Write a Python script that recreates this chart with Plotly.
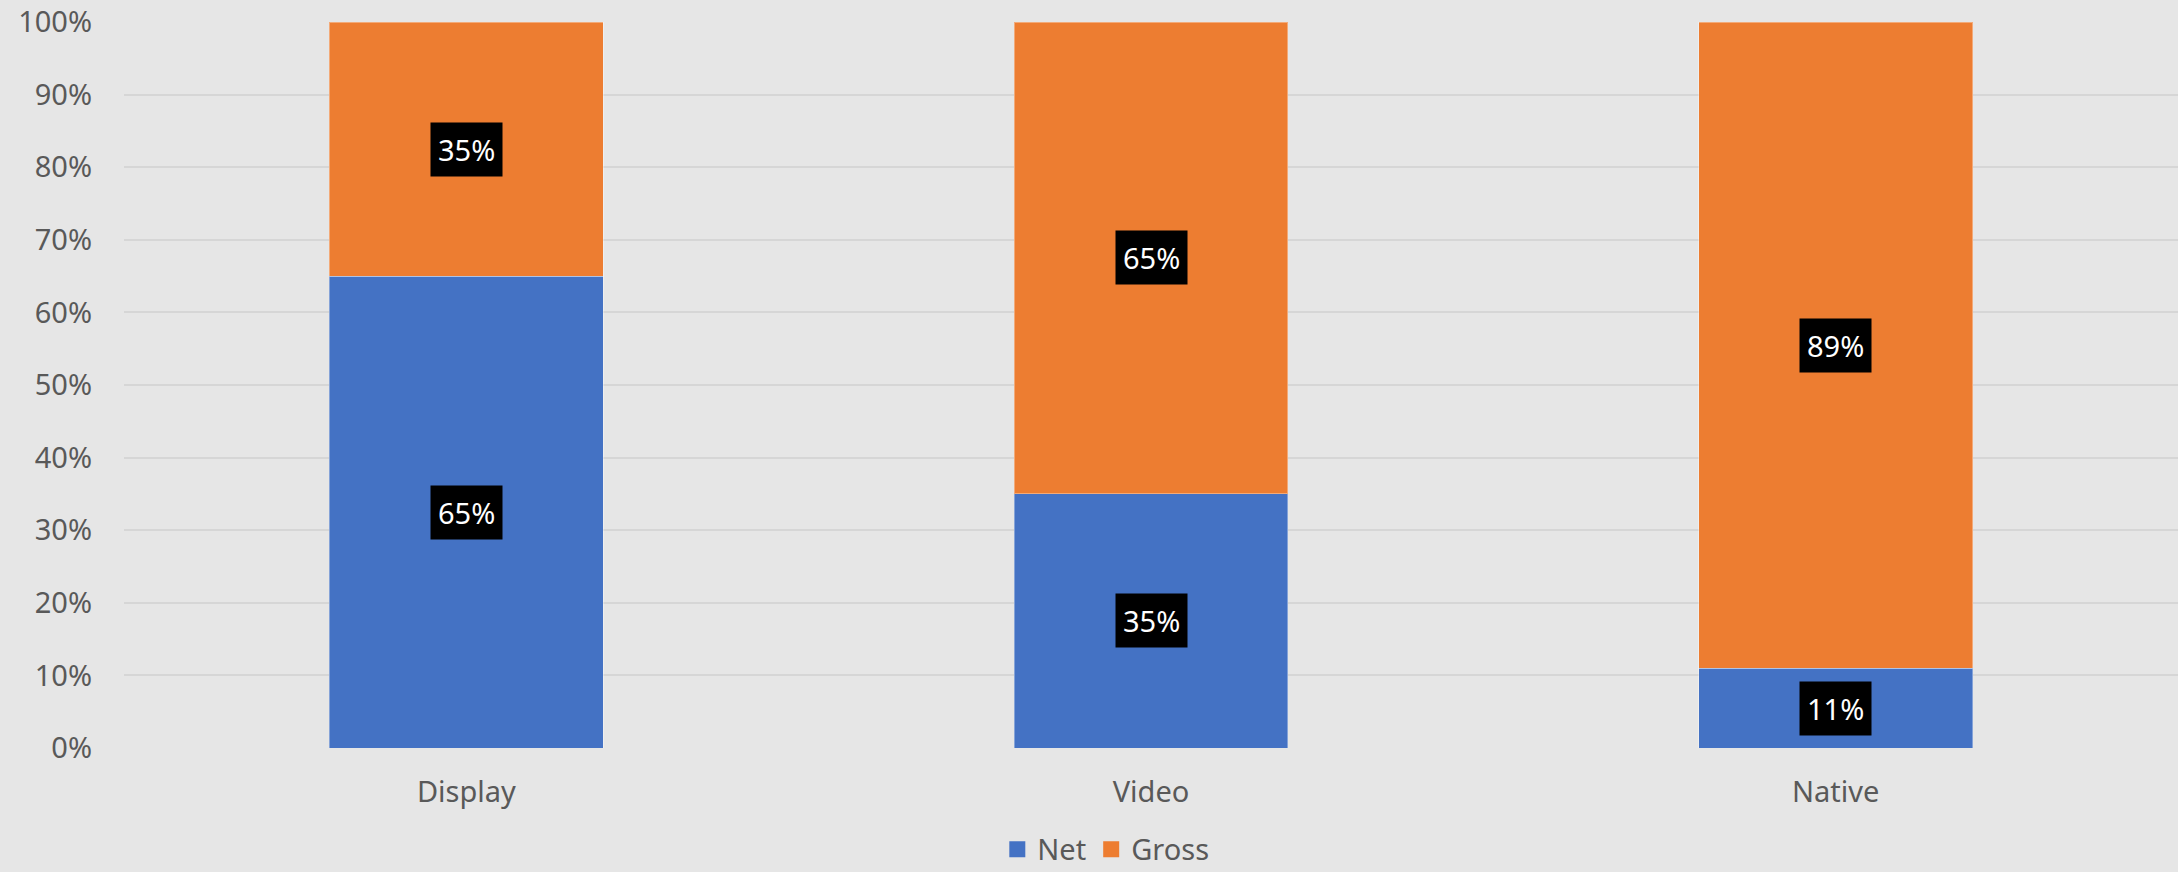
import plotly.graph_objects as go

categories = ["Display", "Video", "Native"]
net_values = [65, 35, 11]
gross_values = [35, 65, 89]
series_names = ["Net", "Gross"]
y_ticks = [0, 10, 20, 30, 40, 50, 60, 70, 80, 90, 100]
y_tick_text = [f"{v}%" for v in y_ticks]

BLUE = "#4472C4"
ORANGE = "#ED7D31"
BG = "#E6E6E6"
TXT = "#595959"
FONT = "Noto Sans"

fig = go.Figure()
for name, vals, col in ((series_names[0], net_values, BLUE), (series_names[1], gross_values, ORANGE)):
    fig.add_trace(go.Bar(name=name, x=categories, y=vals, showlegend=False,
                         marker=dict(color=col, line=dict(width=1, color="rgba(255,255,255,0.35)"))))
# legend entries with larger square swatches
for name, col in ((series_names[0], BLUE), (series_names[1], ORANGE)):
    fig.add_trace(go.Scatter(name=name, x=[None], y=[None], mode="markers",
                             marker=dict(symbol="square", size=19, color=col), showlegend=True))

annotations = []
for c, n, g in zip(categories, net_values, gross_values):
    for base, v in ((0, n), (n, g)):
        annotations.append(dict(
            x=c, y=base + v / 2, xref="x", yref="y", text=f"{v}%", showarrow=False,
            font=dict(family=FONT, size=29, color="white"), bgcolor="black", borderpad=7,
        ))

fig.update_layout(
    barmode="stack",
    bargap=0.6,
    width=2178, height=872,
    margin=dict(l=124, r=0, t=22, b=124, autoexpand=False),
    paper_bgcolor=BG, plot_bgcolor=BG,
    font=dict(family=FONT, size=29, color=TXT),
    annotations=annotations,
    legend=dict(orientation="h", x=0.478, xanchor="center", y=0.026, yref="container",
                yanchor="middle",
                font=dict(family=FONT, size=29, color=TXT), itemwidth=30, traceorder="normal",
                bgcolor="rgba(0,0,0,0)"),
    xaxis=dict(showgrid=False, showline=False, zeroline=False, ticklabelstandoff=24,
               tickfont=dict(family=FONT, size=29, color=TXT)),
    yaxis=dict(range=[0, 100], tickmode="array", tickvals=y_ticks, ticktext=y_tick_text,
               showgrid=True, gridcolor="#D6D6D6", gridwidth=2, zeroline=False, showline=False,
               ticklabelstandoff=31, tickfont=dict(family=FONT, size=29, color=TXT)),
)

fig.write_html("out.html", config={"displayModeBar": False},
               post_script="document.body.style.margin='0';document.body.style.overflow='hidden';")
